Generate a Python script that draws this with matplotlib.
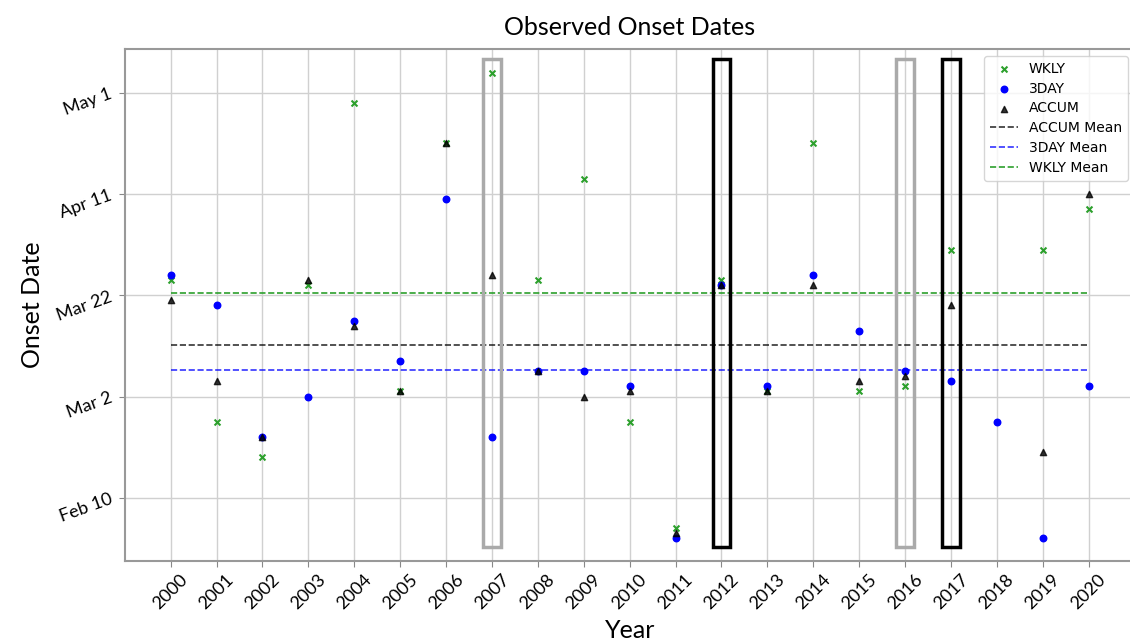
import datetime
import matplotlib
matplotlib.use('Agg')
import matplotlib.pyplot as plt
import matplotlib.patches as patches
import numpy as np

# onset dates as day of year (non-leap year), nan = no onset found
years = np.arange(2000, 2021)
wkly = [84, 56, 49, 83, 119, 62, 111, 125, 84, 104, 56, 35, 84, 62, 111, 62, 63, 90, np.nan, 90, 98]
three_day = [85, 79, 53, 61, 76, 68, 100, 53, 66, 66, 63, 33, 83, 63, 85, 74, 66, 64, 56, 33, 63]
accum = [80, 64, 53, 84, 75, 62, 111, 85, 66, 61, 62, 34, 83, 62, 83, 64, 65, 79, np.nan, 50, 101]

# highlighted years
gray_years = [2007, 2016]
black_years = [2012, 2017]

ytick_labels = ['Feb 10', 'Mar 2', 'Mar 22', 'Apr 11', 'May 1']

wkly = np.array(wkly, dtype=float)
three_day = np.array(three_day, dtype=float)
accum = np.array(accum, dtype=float)

def doy(label):
    return datetime.datetime.strptime(label + ' 2001', '%b %d %Y').timetuple().tm_yday

yticks = [doy(l) for l in ytick_labels]

font = 'Lato'

fig = plt.figure(figsize=(11.3, 6.4), dpi=100)
ax = fig.add_axes([0.1104, 0.1234, 0.8936, 0.7996])

ax.scatter(years, wkly, marker='x', color='tab:green', s=18, linewidths=1.5, label='WKLY', zorder=3)
ax.scatter(years, three_day, marker='o', color='blue', s=22, label='3DAY', zorder=3)
ax.scatter(years, accum, marker='^', color='black', s=20, alpha=0.8, label='ACCUM', zorder=3)

ax.plot([years[0], years[-1]], [np.nanmean(accum)] * 2, '--', color='black', lw=1.2, alpha=0.8, label='ACCUM Mean')
ax.plot([years[0], years[-1]], [np.nanmean(three_day)] * 2, '--', color='blue', lw=1.2, alpha=0.8, label='3DAY Mean')
ax.plot([years[0], years[-1]], [np.nanmean(wkly)] * 2, '--', color='tab:green', lw=1.2, label='WKLY Mean')

# boxes round the highlighted years
for yr in gray_years:
    ax.add_patch(patches.Rectangle((yr - 0.19, 31.2), 0.38, 96.4, fill=False,
                                   edgecolor='#aaaaaa', lw=2.5, zorder=4))
for yr in black_years:
    ax.add_patch(patches.Rectangle((yr - 0.19, 31.2), 0.38, 96.4, fill=False,
                                   edgecolor='black', lw=2.5, zorder=4))

ax.set_xlim(1999, 2021)
ax.set_ylim(28.5, 129.6)
ax.set_xticks(years)
ax.set_xticklabels([str(y) for y in years], rotation=45, fontsize=13, family=font)
ax.set_yticks(yticks)
ax.set_yticklabels(ytick_labels, rotation=20, fontsize=13, family=font)
ax.tick_params(colors='#888888', labelcolor='black', length=4)
ax.grid(True, color='#d0d0d0', lw=1)
ax.set_axisbelow(True)
for s in ax.spines.values():
    s.set_color('#999999')
    s.set_linewidth(1.5)

ax.set_title('Observed Onset Dates', fontsize=18, family=font, pad=10)
ax.set_xlabel('Year', fontsize=18, family=font, labelpad=5)
ax.set_ylabel('Onset Date', fontsize=18, family=font, labelpad=8)

ax.legend(loc='upper right', fontsize=10, labelspacing=0.42)

plt.savefig('out.png', dpi=100)
